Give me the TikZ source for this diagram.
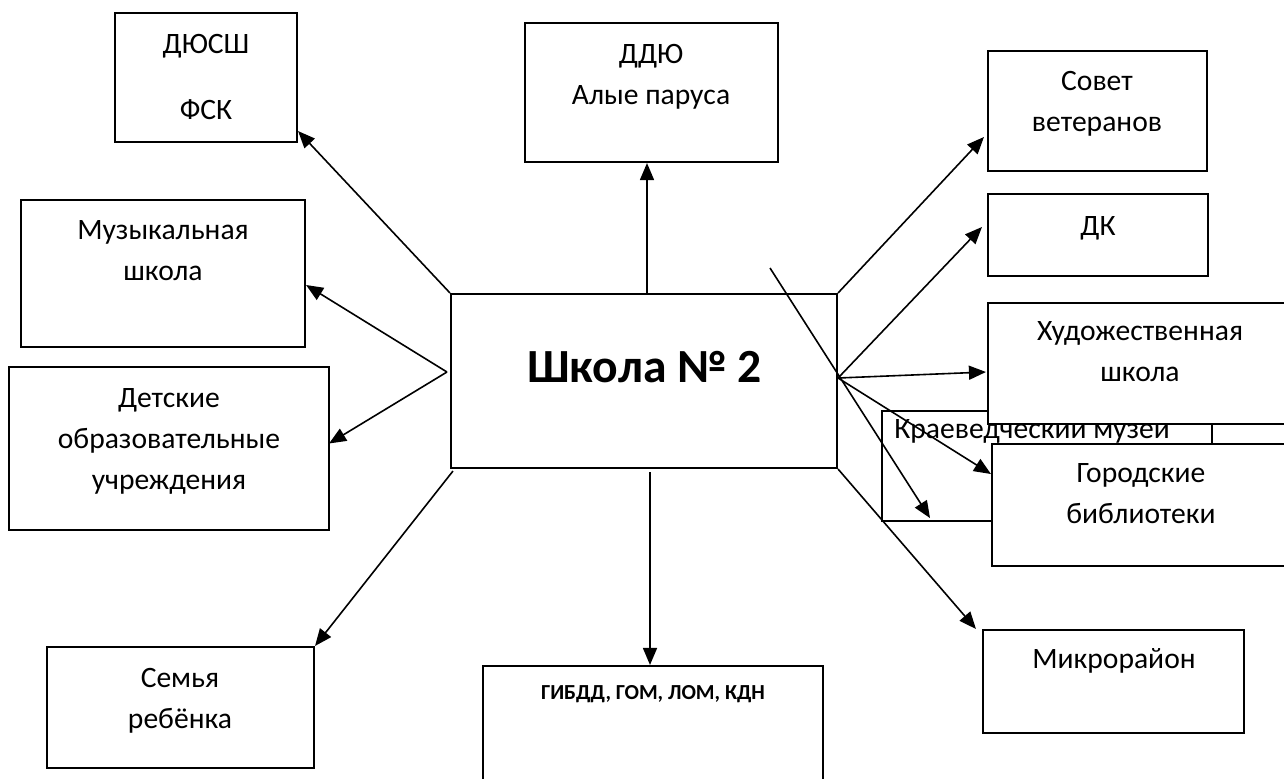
\documentclass[tikz,border=0pt]{standalone}
\usepackage{fontspec}
\setmainfont{Carlito}
\usetikzlibrary{arrows.meta,fit,calc}
\begin{document}
\begin{tikzpicture}[x=0.5pt,y=-0.5pt,
  box/.style={draw,line width=1.05pt,inner sep=0pt,fit={#1}},
  wbox/.style={box={#1},fill=white},
  txt/.style={font=\fontsize{14.8}{20.5}\selectfont,align=center,inner sep=0pt},
  arr/.style={line width=0.8pt,-{Triangle[length=8.5pt,width=7pt]}}]
\useasboundingbox (0,0) rectangle (1284,778);
\fill[white] (0,0) rectangle (1284,778);
\clip (0,0) rectangle (1284,778);

% left column
\node[box={(115,13)(297,142)}] (dyussh) {};
\node[txt,anchor=north] (dyusshT) at (206,34) {ДЮСШ\\[12.5pt]ФСК};
\node[box={(21,200)(305,347)}] (music) {};
\node[txt,anchor=north] (musicT) at (163,220) {Музыкальная\\школа};
\node[box={(9,367)(329,530)}] (det) {};
\node[txt,anchor=north] (detT) at (169,388) {Детские\\образовательные\\учреждения};
\node[box={(47,647)(314,768)}] (semya) {};
\node[txt,anchor=north] (semyaT) at (180,668) {Семья\\ребёнка};

% centre column
\node[box={(525,23)(778,162)}] (ddu) {};
\node[txt,anchor=north] (dduT) at (651,44) {ДДЮ\\Алые паруса};
\node[box={(451,294)(837,468)}] (school) {};
\node[inner sep=0pt,anchor=base,font=\fontsize{23.8}{28}\selectfont\bfseries] (schoolT) at (644.5,382) {Школа № 2};
\node[box={(483,666)(823,790)}] (gibdd) {};
\node[inner sep=0pt,anchor=base,font=\fontsize{10.7}{13}\selectfont\bfseries] (gibddT) at (653,699) {ГИБДД, ГОМ, ЛОМ, КДН};

% right column
\node[box={(988,51)(1207,171)}] (sovet) {};
\node[txt,anchor=north] (sovetT) at (1097,71) {Совет\\ветеранов};
\node[box={(988,194)(1208,276)}] (dk) {};
\node[txt,anchor=base] (dkT) at (1098,235) {ДК};
\node[box={(882,411)(1212,521)}] (kray) {};
\node[txt,anchor=base] (krayT) at (1032,438) {Краеведческий музей};
\node[wbox={(988,303)(1292,424)}] (hud) {};
\node[txt,anchor=north] (hudT) at (1140,321) {Художественная\\школа};
\node[wbox={(992,444)(1292,566)}] (gor) {};
\node[txt,anchor=north] (gorT) at (1141,463) {Городские\\библиотеки};
\node[box={(983,630)(1244,733)}] (mikro) {};
\node[txt,anchor=base] (mikroT) at (1114,668) {Микрорайон};

% connectors
\coordinate (jl) at ($(school.west)+(-3,-9)$);
\coordinate (jr) at ($(school.east)+(0,-3)$);
\coordinate (kstart) at (770,268);
\draw[arr] (school.north west) -- ($(dyussh.south east)+(0,-12)$);
\draw[arr] (jl) -- ($(music.east)+(0,11.5)$);
\draw[arr] (jl) -- ($(det.east)+(-1,-5)$);
\draw[arr] ($(school.south west)+(3,2)$) -- (semya.north east);
\draw[arr] ($(school.south)+(6,3)$) -- ($(gibdd.north)+(-3,0)$);
\draw[arr] ($(school.north)+(3,0)$) -- ($(ddu.south)+(-4.5,0)$);
\draw[arr] (school.north east) -- ($(sovet.west)+(-3,26)$);
\draw[arr] (jr) -- ($(dk.west)+(-5,-8)$);
\draw[arr] (jr) -- ($(hud.west)+(-1,8.5)$);
\draw[arr] (jr) -- ($(gor.west)+(0,-31)$);
\draw[arr] (kstart) -- ($(kray.south)+(-117,-4)$);
\draw[arr] (school.south east) -- ($(mikro.north west)+(-6,0)$);
\end{tikzpicture}
\end{document}
